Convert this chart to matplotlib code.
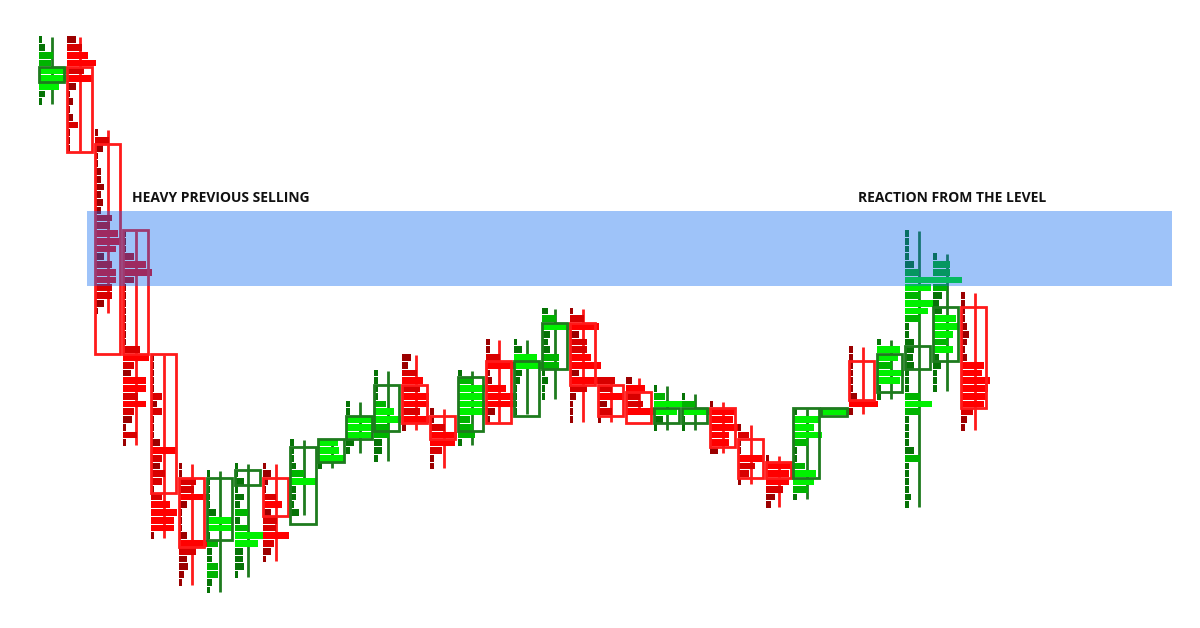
import matplotlib.pyplot as plt
from matplotlib.patches import Rectangle

# candle data (price in ticks), profile volumes listed from high price down
highs  = [71, 71, 59, 46, 30, 16, 15, 16, 16, 19, 19, 24, 28, 30, 23, 28, 32,
          32, 36, 36, 27, 27, 26, 25, 24, 21, 17, 23, 23, 31, 32, 46, 43, 38]
opens  = [66, 67, 57, 46, 30, 14, 7, 14, 14, 9, 17, 20, 21, 26, 22, 21, 29,
          23, 29, 34, 26, 25, 22, 22, 23, 19, 16, 15, 23, 29, 26, 29, 30, 36]
closes = [67, 57, 31, 31, 13, 6, 14, 15, 10, 18, 19, 22, 26, 22, 20, 27, 22,
          29, 34, 27, 23, 22, 23, 23, 19, 15, 15, 23, 23, 25, 30, 31, 36, 24]
volumes = [
    [3, 5, 12, 10, 25, 25, 17, 5, 3],
    [8, 13, 18, 25, 15, 22, 8, 2, 5, 2, 5, 10, 2, 2, 2],
    [2, 12, 7, 2, 3, 5, 5, 8, 5, 7, 5, 15, 13, 20, 23, 18, 8, 15, 18, 18, 15, 15, 8, 2],
    [1, 1, 1, 10, 20, 25, 10, 2, 2, 2, 1, 1, 1, 1, 1, 15, 23, 10, 7, 20, 20, 13, 20, 10, 8, 3, 12, 2],
    [1, 1, 1, 1, 3, 10, 5, 10, 1, 3, 1, 8, 23, 10, 8, 12, 10, 2, 10, 17, 23, 20, 20, 1],
    [1, 2, 15, 13, 25, 7, 3, 2, 2, 7, 27, 15, 7, 8, 5, 2],
    [1, 1, 1, 1, 1, 8, 23, 23, 2, 10, 5, 5, 10, 10, 5, 1],
    [1, 3, 8, 3, 8, 5, 12, 5, 12, 25, 20, 7, 7, 8, 1],
    [1, 7, 5, 3, 12, 17, 7, 13, 12, 23, 10, 7, 2],
    [1, 2, 2, 5, 12, 23, 5, 5, 2, 7],
    [17, 18, 22, 2],
    [1, 2, 23, 23, 23, 7, 2],
    [1, 1, 2, 2, 10, 17, 23, 13, 13, 7, 7, 2],
    [8, 5, 13, 18, 15, 23, 23, 15, 23, 1],
    [1, 3, 13, 23, 22, 10, 2, 2],
    [2, 13, 23, 22, 23, 23, 10, 13, 15, 2],
    [1, 2, 12, 25, 2, 5, 17, 25, 25, 8, 2],
    [1, 7, 20, 25, 7, 5, 2, 2, 2, 1],
    [5, 12, 25, 7, 5, 7, 15, 15, 3, 5, 2, 1],
    [2, 12, 25, 8, 15, 15, 18, 27, 8, 25, 15, 5, 3, 2, 1],
    [15, 12, 22, 8, 12, 1],
    [5, 17, 12, 15, 25],
    [1, 10, 25, 20, 8, 1],
    [3, 12, 25, 3, 1],
    [2, 23, 20, 25, 17, 17, 7],
    [2, 10, 2, 3, 23, 15, 10, 2],
    [3, 25, 20, 20, 15, 8, 5],
    [1, 23, 18, 25, 13, 2, 2, 10, 20, 18, 13, 2],
    [24],
    [1, 1, 1, 1, 1, 2, 7, 25, 2],
    [3, 20, 18, 13, 23, 20, 2, 2],
    [1, 1, 1, 1, 8, 12, 25, 22, 13, 25, 20, 13, 2, 2, 8, 8, 7, 8, 2, 2, 1, 13,
     23, 13, 2, 2, 2, 2, 8, 13, 2, 2, 2, 2, 5, 1],
    [1, 15, 15, 25, 12, 8, 5, 8, 20, 22, 17, 13, 17, 5, 7, 2, 2, 2],
    [1, 1, 1, 3, 5, 7, 5, 2, 5, 20, 18, 25, 23, 22, 20, 10, 5, 2],
]

zone_low, zone_high = 39.2, 48.9
zone_start, zone_end = 1.72, 40.55
notes = ["HEAVY PREVIOUS SELLING", "REACTION FROM THE LEVEL"]
note_x = [3.33, 29.3]
note_y = 50.6

red_cols = ["#9b0000", "#d80000", "#ff0000"]
green_cols = ["#067306", "#00b400", "#00f000"]

fig = plt.figure(figsize=(12, 6.28), dpi=100)
ax = fig.add_axes([0, 0, 1, 1])

vol_scale = 1.15 / 27.94
body_w = 0.9
for i in range(len(highs)):
    vols = volumes[i]
    low = highs[i] - len(vols) + 1
    up = closes[i] >= opens[i]
    cols = green_cols if up else red_cols
    edge = "#1e7b1e" if up else "#ff1a1a"

    # wick
    ax.plot([i + 0.48, i + 0.48], [low - 0.3, highs[i] + 0.3], color=edge,
            lw=2, zorder=1, solid_capstyle="butt")

    # volume profile
    for k, v in enumerate(vols):
        lvl = highs[i] - k
        c = cols[2] if v >= 17 else (cols[1] if v >= 10 else cols[0])
        ax.barh(lvl, max(v, 3) * vol_scale, left=i, height=0.88, color=c,
                edgecolor="none", zorder=2)

    # body
    b0 = min(opens[i], closes[i]) - 0.5
    b1 = max(opens[i], closes[i]) + 0.5
    ax.add_patch(Rectangle((i, b0), body_w, b1 - b0, fill=False,
                           edgecolor=edge, lw=2, zorder=3))

# level zone drawn over the candles
ax.add_patch(Rectangle((zone_start, zone_low), zone_end - zone_start,
                       zone_high - zone_low, facecolor="#0d6bf2", alpha=0.4,
                       edgecolor="none", zorder=5))

for t, x in zip(notes, note_x):
    ax.text(x, note_y, t, fontsize=10, fontweight="bold", family="Open Sans",
            ha="left", va="center", color="#111111", zorder=6)

ax.set_xlim(-1.396, 41.55)
ax.set_ylim(-4.9, 76.13)
ax.axis("off")

fig.savefig("out.png", dpi=100)
